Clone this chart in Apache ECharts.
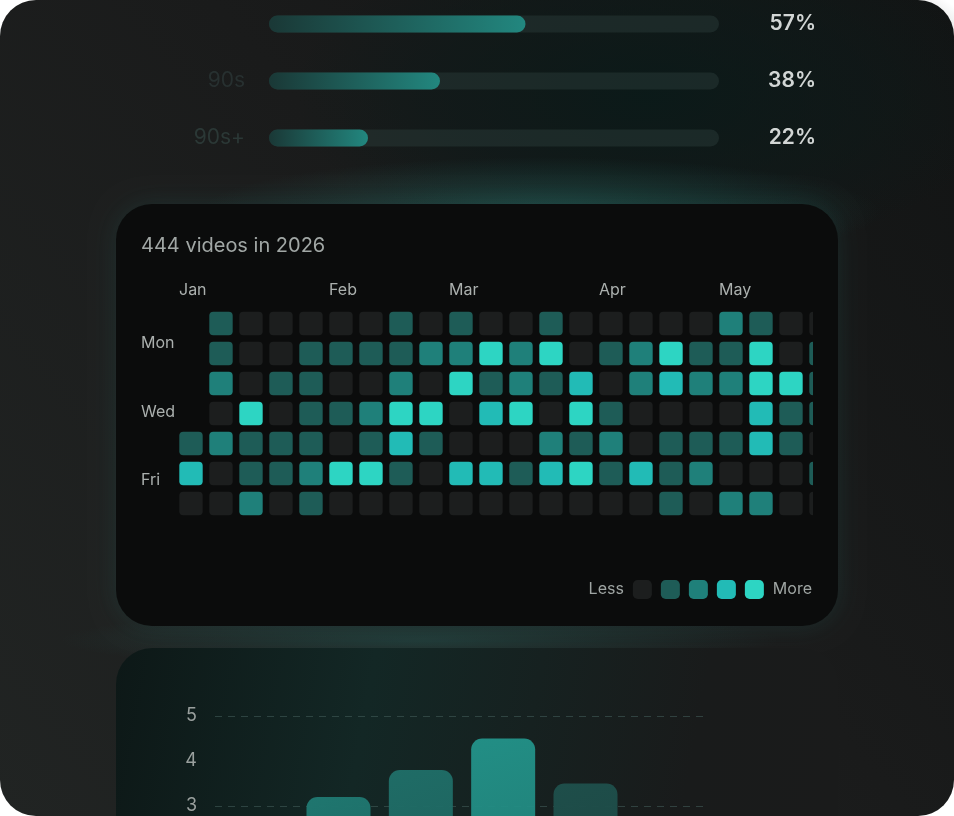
<!DOCTYPE html>
<html>
<head>
<meta charset="utf-8">
<script src="https://cdn.jsdelivr.net/npm/echarts@6/dist/echarts.min.js"></script>
<style>
html, body { margin: 0; padding: 0; background: #ffffff; }
#chart { width: 954px; height: 816px; }
</style>
</head>
<body>
<div id="chart"></div>
<script>
// top: completion by length bucket (first label is faded out in the picture)
const ageGroups = ['', '90s', '90s+'];
const completion = [57, 38, 22];

// middle: upload heatmap, one array per weekday, one entry per week column (null = no day)
const heatTitle = '444 videos in 2026';
const weekdays = ['Sun', 'Mon', 'Tue', 'Wed', 'Thu', 'Fri', 'Sat'];
const monthNames = ['Jan', 'Feb', 'Mar', 'Apr', 'May'];
const monthStartCols = [0, 5, 9, 14, 18];
const sunRow = [null, 1, 0, 0, 0, 0, 0, 1, 0, 1, 0, 0, 1, 0, 0, 0, 0, 0, 2, 1, 0, 0];
const monRow = [null, 1, 0, 0, 1, 1, 1, 1, 2, 2, 4, 2, 4, 0, 1, 2, 4, 1, 1, 4, 0, 1];
const tueRow = [null, 2, 0, 1, 1, 0, 0, 2, 0, 4, 1, 2, 1, 3, 0, 2, 3, 2, 2, 4, 4, 1];
const wedRow = [null, 0, 4, 0, 1, 1, 2, 4, 4, 0, 3, 4, 0, 4, 1, 0, 0, 0, 0, 3, 1, 1];
const thuRow = [1, 2, 1, 1, 1, 0, 1, 3, 1, 0, 0, 0, 2, 1, 2, 0, 1, 1, 1, 3, 1, 0];
const friRow = [3, 0, 1, 1, 2, 4, 4, 1, 0, 3, 3, 1, 3, 4, 1, 3, 1, 2, 0, 0, 0, 1];
const satRow = [0, 0, 2, 0, 1, 0, 0, 0, 0, 0, 0, 0, 0, 0, 0, 0, 1, 0, 2, 2, 0, 0];
const levels = [0, 1, 2, 3, 4];

// bottom: bar chart (only the tops of the middle bars are in view)
const barCats = ['Mon', 'Tue', 'Wed', 'Thu', 'Fri', 'Sat'];
const barValues = [null, 3.2, 3.8, 4.5, 3.5, null];

const FONT = 'Inter';
const levelColors = ['#1c1e1e', '#1e5c57', '#1f807a', '#22bbb6', '#2dd5c3'];
const barTints = [[31, 118, 111], [31, 118, 111], [31, 108, 102], [34, 142, 133], [30, 78, 74], [30, 78, 74]];

const cells = [];
[sunRow, monRow, tueRow, wedRow, thuRow, friRow, satRow].forEach(function (row, d) {
    row.forEach(function (v, w) {
        if (v !== null) cells.push([w, d, v]);
    });
});

function rgba(c, a) { return 'rgba(' + c[0] + ',' + c[1] + ',' + c[2] + ',' + a + ')'; }

const chart = echarts.init(document.getElementById('chart'), null, { renderer: 'canvas' });

const option = {
    backgroundColor: '#ffffff',
    animation: false,
    textStyle: { fontFamily: FONT },
    graphic: {
        elements: [
            { type: 'rect', silent: true, z: -20, shape: { x: 0, y: 0, width: 954, height: 816, r: 36 },
              style: { fill: { type: 'linear', x: 0, y: 1, x2: 1, y2: 0, colorStops: [
                  { offset: 0, color: '#212423' }, { offset: 0.55, color: '#1a1b1b' }, { offset: 1, color: '#121414' }] } } },
            // dark teal haze behind the progress bars
            { type: 'circle', silent: true, z: -19, x: 650, y: 95, scaleX: 2.1, scaleY: 1.0,
              shape: { cx: 0, cy: 0, r: 170 },
              style: { fill: { type: 'radial', x: 0.5, y: 0.5, r: 0.5, colorStops: [
                  { offset: 0, color: 'rgba(10,26,25,0.9)' }, { offset: 0.6, color: 'rgba(12,26,25,0.5)' }, { offset: 1, color: 'rgba(12,26,25,0)' }] } } },
            // glow above the heatmap card
            { type: 'circle', silent: true, z: -18, x: 540, y: 212, scaleX: 3.4, scaleY: 0.55,
              shape: { cx: 0, cy: 0, r: 100 },
              style: { fill: { type: 'radial', x: 0.5, y: 0.5, r: 0.5, colorStops: [
                  { offset: 0, color: 'rgba(42,125,116,0.42)' }, { offset: 1, color: 'rgba(42,125,116,0)' }] } } },
            // glow between the cards
            { type: 'circle', silent: true, z: -18, x: 420, y: 640, scaleX: 3.6, scaleY: 0.3,
              shape: { cx: 0, cy: 0, r: 100 },
              style: { fill: { type: 'radial', x: 0.5, y: 0.5, r: 0.5, colorStops: [
                  { offset: 0, color: 'rgba(40,110,103,0.35)' }, { offset: 1, color: 'rgba(40,110,103,0)' }] } } },
            { type: 'rect', silent: true, z: -17, shape: { x: 116, y: 204, width: 722, height: 422, r: 36 },
              style: { fill: '#0b0c0c', shadowBlur: 24, shadowColor: 'rgba(40,110,103,0.22)' } },
            { type: 'rect', silent: true, z: -17, shape: { x: 116, y: 648, width: 722, height: 260, r: 36 },
              style: { fill: { type: 'linear', x: 0, y: 0, x2: 1, y2: 0.5, colorStops: [
                  { offset: 0, color: '#0d1817' }, { offset: 0.35, color: '#132725' }, { offset: 0.8, color: '#191b1b' }, { offset: 1, color: '#1a1b1b' }] } } }
        ]
    },
    title: {
        text: heatTitle, left: 141, top: 236, padding: 0,
        textStyle: { color: '#a1a7a5', fontSize: 20, fontWeight: 400, fontFamily: FONT }
    },
    grid: [
        { left: 269, top: -4.5, width: 450, height: 171, outerBoundsMode: 'none' },
        { left: 176, top: 308.5, width: 637, height: 210, outerBoundsMode: 'none' },
        { left: 215, top: 716, width: 494, height: 225, outerBoundsMode: 'none' }
    ],
    xAxis: [
        { gridIndex: 0, type: 'value', min: 0, max: 100, show: false },
        { gridIndex: 1, type: 'value', min: -0.5, max: 20.7333, position: 'top',
          axisLine: { show: false }, axisTick: { show: false }, splitLine: { show: false },
          axisLabel: {
              customValues: monthStartCols.map(function (c) { return c - 0.4; }),
              formatter: function (v) { return monthNames[monthStartCols.indexOf(Math.round(v + 0.4))] || ''; },
              align: 'left', margin: 10, color: '#abb0ae', fontSize: 16, fontFamily: FONT
          } },
        { gridIndex: 2, type: 'category', data: barCats,
          axisLine: { show: false }, axisTick: { show: false }, axisLabel: { show: false } }
    ],
    yAxis: [
        { gridIndex: 0, type: 'category', inverse: true, data: ageGroups,
          axisLine: { show: false }, axisTick: { show: false },
          axisLabel: { margin: 24, fontSize: 21, fontFamily: FONT,
                       color: function (v, i) { return ['#1c1e1e', '#273030', '#2b3836'][i]; } } },
        { gridIndex: 0, type: 'category', inverse: true, position: 'right',
          data: completion.map(function (v) { return v + '%'; }),
          axisLine: { show: false }, axisTick: { show: false },
          axisLabel: { margin: 97, align: 'right', fontSize: 21, fontWeight: 600, color: '#d2d6d5', fontFamily: FONT } },
        { gridIndex: 1, type: 'category', inverse: true, data: weekdays,
          axisLine: { show: false }, axisTick: { show: false }, splitLine: { show: false },
          axisLabel: {
              interval: 0, align: 'left', margin: 35,
              formatter: function (v) {
                  if (v === 'Mon') return '{up|Mon}';
                  if (v === 'Wed') return '{mid|Wed}';
                  if (v === 'Fri') return '{dn|Fri}';
                  return '';
              },
              rich: {
                  up: { color: '#abb0ae', fontSize: 16, fontFamily: FONT, padding: [0, 0, 20, 0] },
                  mid: { color: '#abb0ae', fontSize: 16, fontFamily: FONT, padding: [0, 0, 3, 0] },
                  dn: { color: '#abb0ae', fontSize: 16, fontFamily: FONT, padding: [13, 0, 0, 0] }
              }
          } },
        { gridIndex: 2, type: 'value', min: 0, max: 5, interval: 1,
          axisLine: { show: false }, axisTick: { show: false },
          axisLabel: { margin: 18, fontSize: 18, color: '#9aa09e', fontFamily: FONT, padding: [4, 0, 0, 0] },
          splitLine: { lineStyle: { color: ['rgba(0,0,0,0)', 'rgba(70,96,93,0.55)'], type: [7, 6], width: 1.2 } } }
    ],
    visualMap: {
        type: 'piecewise', seriesIndex: 1, dimension: 2, orient: 'horizontal',
        right: 127, top: 565, itemWidth: 19, itemHeight: 19, itemGap: 9, textGap: 10,
        itemSymbol: 'roundRect', selectedMode: false,
        text: ['More', 'Less'],
        textStyle: { color: '#9fa5a3', fontSize: 16, fontFamily: FONT },
        pieces: levels.map(function (l) { return { value: l, color: levelColors[l] }; })
    },
    series: [
        {
            type: 'bar', xAxisIndex: 0, yAxisIndex: 0, data: completion, barWidth: 17,
            showBackground: true,
            backgroundStyle: { color: 'rgba(44,62,60,0.45)', borderRadius: 9 },
            itemStyle: {
                borderRadius: 9,
                color: { type: 'linear', x: 0, y: 0, x2: 1, y2: 0, colorStops: [
                    { offset: 0, color: '#1a3836' }, { offset: 1, color: '#22877f' }] }
            }
        },
        {
            type: 'custom', xAxisIndex: 1, yAxisIndex: 2, data: cells, clip: true,
            encode: { x: 0, y: 1 },
            renderItem: function (params, api) {
                const c = api.coord([api.value(0), api.value(1)]);
                const s = api.size([1, 1]);
                const w = s[0] * 0.78, h = s[1] * 0.78;
                return {
                    type: 'rect',
                    shape: { x: c[0] - w / 2, y: c[1] - h / 2, width: w, height: h, r: 4 },
                    style: { fill: api.visual('color') }
                };
            }
        },
        {
            type: 'bar', xAxisIndex: 2, yAxisIndex: 3, barWidth: 64,
            data: barValues.map(function (v, i) {
                return {
                    value: v,
                    itemStyle: {
                        borderRadius: [11, 11, 0, 0],
                        color: { type: 'linear', x: 0, y: 0, x2: 1, y2: 1, colorStops: [
                            { offset: 0, color: rgba(barTints[i], 1) },
                            { offset: 1, color: rgba(barTints[i], 0.82) }] }
                    }
                };
            })
        }
    ]
};

chart.setOption(option);
</script>
</body>
</html>
